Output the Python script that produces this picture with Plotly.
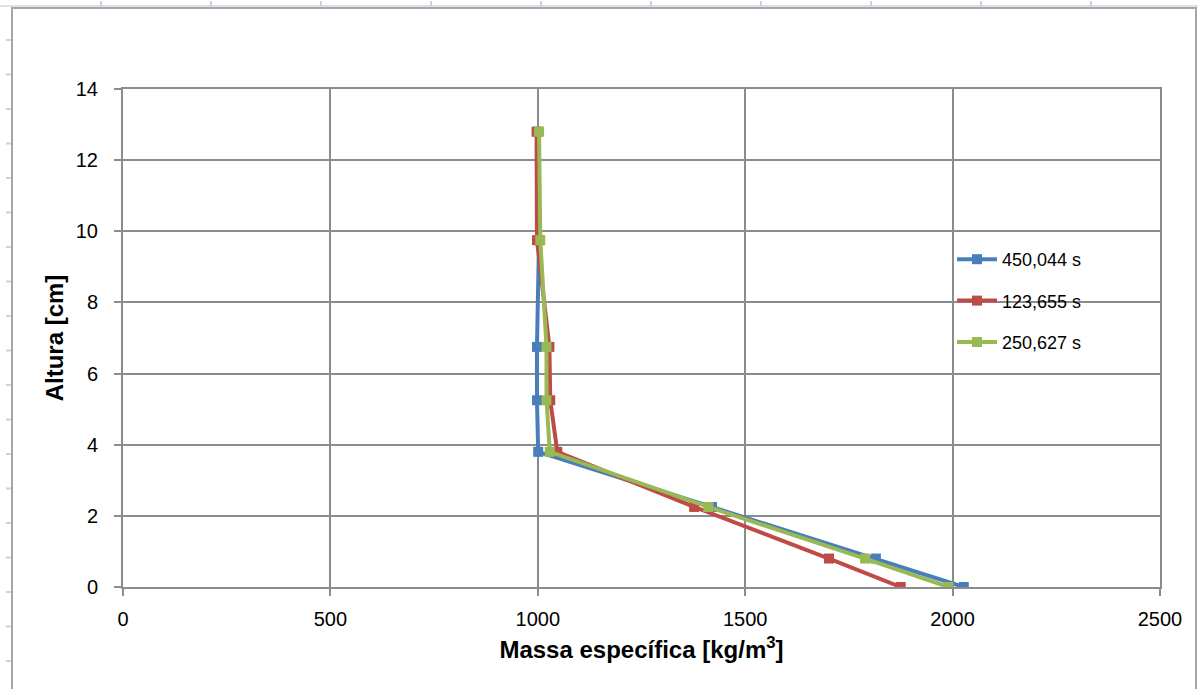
import plotly.graph_objects as go

# Data
altura = [12.8, 9.75, 6.75, 5.25, 3.8, 2.25, 0.8, 0.0]
series_names = ["450,044 s", "123,655 s", "250,627 s"]
massa_450 = [1000, 1003, 998, 998, 1001, 1420, 1815, 2027]
massa_123 = [997, 998, 1028, 1030, 1047, 1377, 1702, 1875]
massa_250 = [1003, 1006, 1021, 1021, 1029, 1411, 1789, 1990]
colors = ["#4A7EBB", "#BE4B48", "#98B954"]
x_ticks = [0, 500, 1000, 1500, 2000, 2500]
y_ticks = [0, 2, 4, 6, 8, 10, 12, 14]

W, H = 1198, 689
L, R, T, B = 123, 1160, 89, 587

fig = go.Figure()
for i, (name, vals, c) in enumerate(zip(series_names, [massa_450, massa_123, massa_250], colors)):
    fig.add_trace(go.Scatter(
        x=vals, y=altura, name=name, mode="lines+markers",
        legendgroup=f"g{i}",
        line=dict(color=c, width=4),
        marker=dict(symbol="square", size=10, color=c),
    ))

def px(x):
    return (x - L) / (R - L)

def py(y):
    return (B - y) / (B - T)

shapes = []
# outer chart frame
shapes.append(dict(type="rect", xref="paper", yref="paper",
                   x0=px(12), x1=px(1196), y0=py(700), y1=py(8),
                   line=dict(color="#a6a6a6", width=2), layer="below"))
# ruler strip at top
shapes.append(dict(type="line", xref="paper", yref="paper",
                   x0=px(0), x1=px(1198), y0=py(6), y1=py(6),
                   line=dict(color="#dbe2ec", width=2)))
for i in range(11):
    xx = 101 + 110 * i
    shapes.append(dict(type="line", xref="paper", yref="paper",
                       x0=px(xx), x1=px(xx), y0=py(1), y1=py(6),
                       line=dict(color="#c8d2e0", width=2)))
for i in range(19):
    yy = 40 + 34.5 * i
    shapes.append(dict(type="line", xref="paper", yref="paper",
                       x0=px(6), x1=px(11), y0=py(yy), y1=py(yy),
                       line=dict(color="#c8d2e0", width=2)))

axis_common = dict(showgrid=True, gridcolor="#8c8c8c", gridwidth=1.5,
                   showline=True, linecolor="#8c8c8c", linewidth=2, mirror=True,
                   ticks="outside", ticklen=7, tickcolor="#8c8c8c", tickwidth=2,
                   zeroline=False, tickfont=dict(size=20))

fig.update_layout(
    width=W, height=H,
    margin=dict(l=L, r=W - R, t=T, b=H - B),
    paper_bgcolor="white", plot_bgcolor="white",
    font=dict(family="Liberation Sans, Arial, sans-serif", color="black", size=19),
    showlegend=True,
    legend=dict(x=px(952), y=py(241), xanchor="left", yanchor="top",
                bgcolor="rgba(0,0,0,0)", font=dict(size=18),
                itemwidth=40, tracegroupgap=15),
    shapes=shapes,
    xaxis=dict(range=[0, 2500], tickvals=x_ticks, ticklabelstandoff=6,
               title=dict(text="<b>Massa específica [kg/m<sup>3</sup>]</b>",
                          font=dict(size=24), standoff=12),
               **axis_common),
    yaxis=dict(range=[0, 14], tickvals=y_ticks, ticklabelstandoff=12,
               title=dict(text="<b>Altura [cm]</b>", font=dict(size=24), standoff=5),
               **axis_common),
)

fig.write_html("out.html")
